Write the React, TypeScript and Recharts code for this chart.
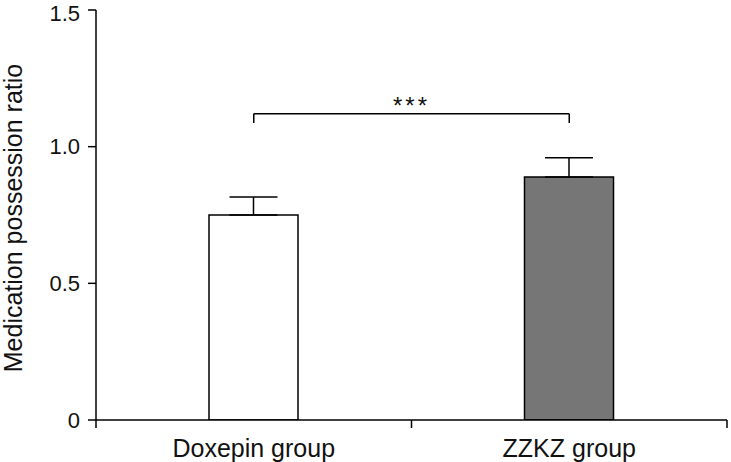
import React from 'react';
import { BarChart, Bar, Cell, XAxis, YAxis, ErrorBar, ReferenceLine } from 'recharts';

const groups = ['Doxepin group', 'ZZKZ group'];
const ratios = [0.75, 0.889];
const upperErrors = [0.066, 0.07];
const yTicks = [0, 0.5, 1, 1.5];
const fills = ['#ffffff', '#767676'];

// bracket height for the significance marker
const bracketY = 1.12;
const bracketDrop = 0.033;

const FONT = '"Liberation Sans", Arial, Helvetica, sans-serif';

const chartData = groups.map((name, i) => ({
  name,
  value: ratios[i],
  err: [0, upperErrors[i]],
}));

const GroupTick = (props: any) => {
  const { x, y, payload, index } = props;
  const half = payload && payload.offset != null ? payload.offset : 157.75;
  return (
    <g>
      <line x1={x - half} y1={y - 8} x2={x - half} y2={y} stroke="#000" strokeWidth={1.5} />
      {index === groups.length - 1 && (
        <line x1={x + half} y1={y - 8} x2={x + half} y2={y} stroke="#000" strokeWidth={1.5} />
      )}
      <text x={x} y={y + 29} textAnchor="middle" fontSize={25} fontFamily={FONT} fill="#111">
        {payload.value}
      </text>
    </g>
  );
};

const YLabel = () => (
  <text
    x={22}
    y={218}
    transform="rotate(-90 22 218)"
    textAnchor="middle"
    fontSize={25}
    fontFamily={FONT}
    fill="#111"
  >
    Medication possession ratio
  </text>
);

const Stars = (props: any) => {
  const vb = props.viewBox || { x: 0, y: 0, width: 0 };
  return (
    <text
      x={vb.x + vb.width / 2}
      y={vb.y}
      textAnchor="middle"
      fontSize={24}
      fontFamily={FONT}
      letterSpacing={3}
      fill="#111"
    >
      ***
    </text>
  );
};

const App: React.FC = () => {
  return (
    <div style={{ position: 'absolute', left: 0, top: 0, width: 731, height: 462, background: '#fff' }}>
      <BarChart
        width={731}
        height={462}
        data={chartData}
        margin={{ top: 10, right: 4, left: 0, bottom: 0 }}
        barSize={89}
      >
        <XAxis
          dataKey="name"
          height={42}
          axisLine={{ stroke: '#000', strokeWidth: 1.5 }}
          tickLine={false}
          tickSize={8}
          tickMargin={0}
          tick={<GroupTick />}
          interval={0}
        />
        <YAxis
          width={96}
          domain={[0, 1.5]}
          ticks={yTicks}
          allowDataOverflow
          axisLine={{ stroke: '#000', strokeWidth: 1.5 }}
          tickLine={{ stroke: '#000', strokeWidth: 1.5 }}
          tickSize={8}
          tickMargin={8}
          tick={{ fontSize: 22, fontFamily: FONT, fill: '#111' }}
          tickFormatter={(v: number) => (v === 0 ? '0' : v.toFixed(1))}
          label={<YLabel />}
        />
        <Bar dataKey="value" stroke="#000" strokeWidth={1.5} isAnimationActive={false}>
          {chartData.map((d, i) => (
            <Cell key={d.name} fill={fills[i]} />
          ))}
          <ErrorBar dataKey="err" direction="y" width={24} stroke="#000" strokeWidth={1.5} />
        </Bar>
        <ReferenceLine
          segment={[
            { x: groups[0], y: bracketY },
            { x: groups[1], y: bracketY },
          ]}
          stroke="#000"
          strokeWidth={1.5}
          label={<Stars />}
        />
        <ReferenceLine
          segment={[
            { x: groups[0], y: bracketY },
            { x: groups[0], y: bracketY - bracketDrop },
          ]}
          stroke="#000"
          strokeWidth={1.5}
        />
        <ReferenceLine
          segment={[
            { x: groups[1], y: bracketY },
            { x: groups[1], y: bracketY - bracketDrop },
          ]}
          stroke="#000"
          strokeWidth={1.5}
        />
      </BarChart>
    </div>
  );
};

export default App;
